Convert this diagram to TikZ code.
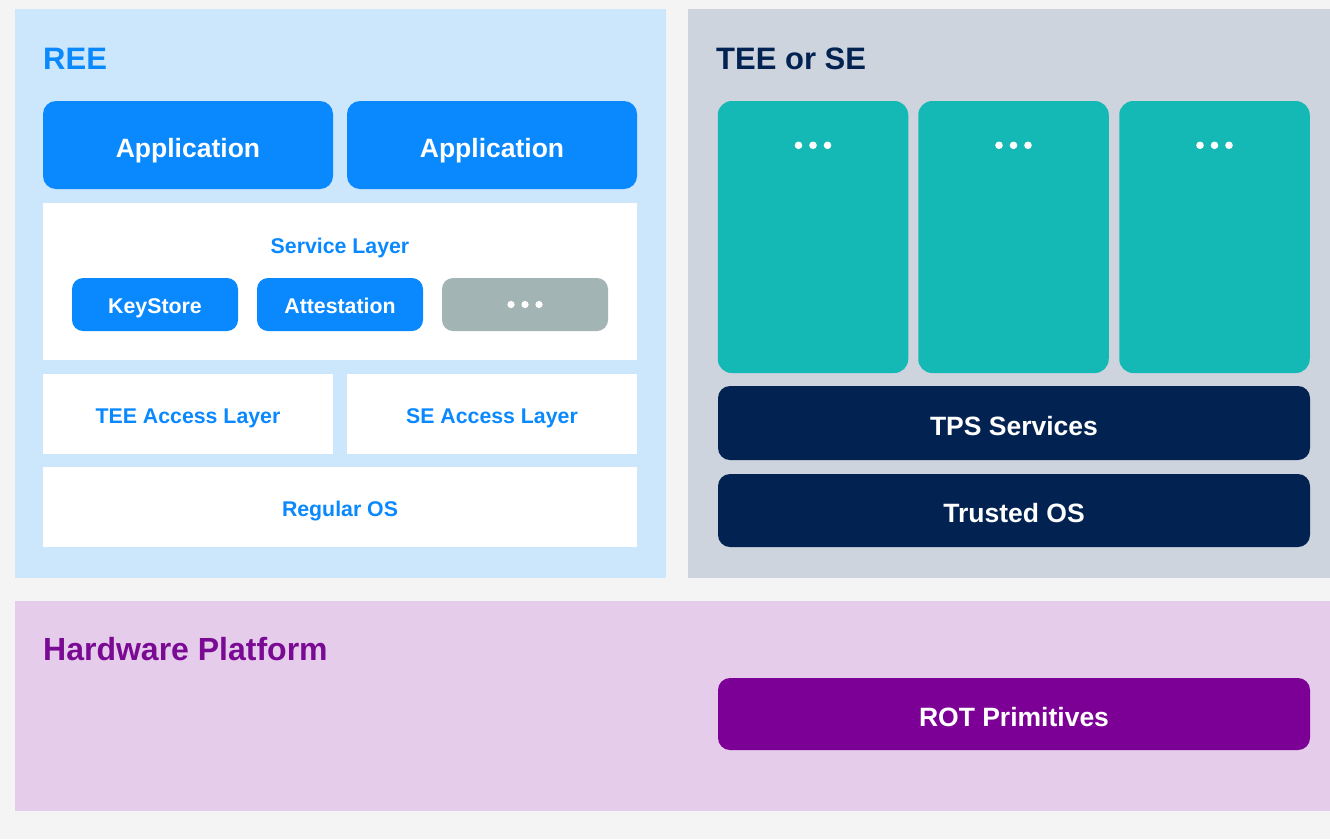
\documentclass[tikz,border=0pt]{standalone}
\usepackage{fontspec}
\setmainfont{Liberation Sans}
\definecolor{bgc}{HTML}{F4F4F4}
\definecolor{reebg}{HTML}{CCE6FC}
\definecolor{teebg}{HTML}{CDD4DE}
\definecolor{hwbg}{HTML}{E5CCEA}
\definecolor{appblue}{HTML}{0A89FF}
\definecolor{greybox}{HTML}{A2B4B3}
\definecolor{tealc}{HTML}{14B8B4}
\definecolor{navy}{HTML}{022352}
\definecolor{purp}{HTML}{7D0096}
\definecolor{hwtitle}{HTML}{7A0A94}
\begin{document}
\begin{tikzpicture}[x=1pt,y=-1pt,
  panel/.style={rectangle, inner sep=0pt, draw=none},
  title/.style={anchor=base west, inner sep=0pt, font=\bfseries\fontsize{31}{34}\selectfont},
  bigbox/.style={rectangle, rounded corners=13pt, inner sep=0pt, text=white, text height=24pt, text depth=0pt, font=\bfseries\fontsize{26.5}{30}\selectfont},
  smallbox/.style={rectangle, rounded corners=11pt, inner sep=0pt, fill=appblue, text=white, text height=18.5pt, text depth=0pt, font=\bfseries\fontsize{21.3}{24}\selectfont},
  whitebox/.style={rectangle, inner sep=0pt, fill=white, text=appblue, text height=19.5pt, text depth=0pt, font=\bfseries\fontsize{21.3}{24}\selectfont},
  tealbox/.style={rectangle, rounded corners=14pt, inner sep=0pt, fill=tealc, minimum width=190.5pt, minimum height=272pt},
  dot/.style={fill=white}
]
\useasboundingbox (0,0) rectangle (1330,839);
\fill[bgc] (0,0) rectangle (1330,839);

% panels
\node[panel, fill=reebg, minimum width=651pt, minimum height=569pt] (ree) at (340.5,293.5) {};
\node[panel, fill=teebg, minimum width=642pt, minimum height=569pt] (tee) at (1009,293.5) {};
\node[panel, fill=hwbg, minimum width=1315pt, minimum height=210pt] (hw) at (672.5,706) {};

% titles
\node[title, text=appblue] (reet) at (43,69) {REE};
\node[title, text=navy] (teet) at (716,69) {TEE or SE};
\node[title, text=hwtitle, font=\bfseries\fontsize{32}{35}\selectfont] (hwt) at (43,660) {Hardware Platform};

% REE content
\node[bigbox, fill=appblue, minimum width=290pt, minimum height=88pt] (app1) at (188,145) {Application};
\node[bigbox, fill=appblue, minimum width=290pt, minimum height=88pt] (app2) at (492,145) {Application};

\node[whitebox, minimum width=594pt, minimum height=157pt] (svc) at (340,281.5) {};
\node[inner sep=0pt, text=appblue, font=\bfseries\fontsize{21.3}{24}\selectfont, anchor=base] (svct) at (340,253) {Service Layer};
\node[smallbox, minimum width=166pt, minimum height=53pt] (ks) at (155,304.5) {KeyStore};
\node[smallbox, minimum width=166pt, minimum height=53pt] (att) at (340,304.5) {Attestation};
\node[smallbox, fill=greybox, minimum width=166pt, minimum height=53pt] (more) at (525,304.5) {};
\fill[dot] ([xshift=-14pt]more.center) circle (3.6);
\fill[dot] (more.center) circle (3.6);
\fill[dot] ([xshift=14pt]more.center) circle (3.6);

\node[whitebox, minimum width=290pt, minimum height=80pt] (teeacc) at (188,414) {TEE Access Layer};
\node[whitebox, minimum width=290pt, minimum height=80pt] (seacc) at (492,414) {SE Access Layer};
\node[whitebox, minimum width=594pt, minimum height=80pt] (ros) at (340,507) {Regular OS};

% TEE content
\node[tealbox] (t1) at (813,237) {};
\node[tealbox] (t2) at (1013.5,237) {};
\node[tealbox] (t3) at (1214.5,237) {};
\foreach \t in {t1,t2,t3}{
  \fill[dot] ([xshift=-14.5pt,yshift=-44.5pt]\t.north) circle (3.8);
  \fill[dot] ([yshift=-44.5pt]\t.north) circle (3.8);
  \fill[dot] ([xshift=14.5pt,yshift=-44.5pt]\t.north) circle (3.8);
}
\node[bigbox, fill=navy, rounded corners=12pt, minimum width=592pt, minimum height=74pt] (tps) at (1014,423) {TPS Services};
\node[bigbox, fill=navy, rounded corners=12pt, minimum width=592pt, minimum height=73pt] (tos) at (1014,510.5) {Trusted OS};

% Hardware content
\node[bigbox, fill=purp, rounded corners=12pt, minimum width=592pt, minimum height=72pt] (rot) at (1014,714) {ROT Primitives};
\end{tikzpicture}
\end{document}
